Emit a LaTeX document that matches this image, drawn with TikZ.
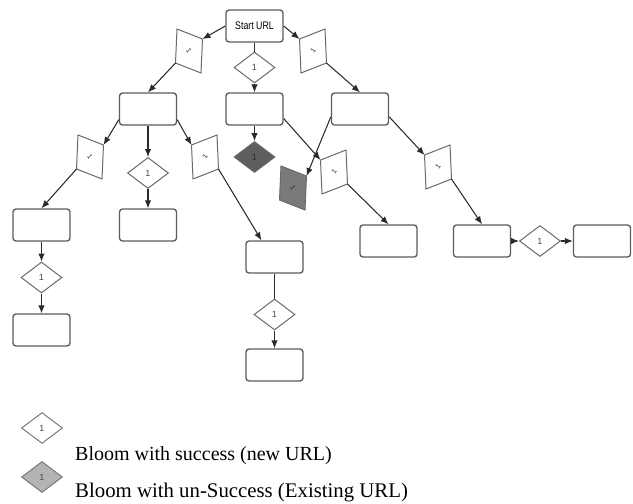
\documentclass[tikz,border=0pt]{standalone}
\usepackage{fontspec}
\usepackage{graphicx}
\setmainfont{Liberation Serif}
\newfontfamily\boxfont{Liberation Sans}
\usetikzlibrary{shapes.geometric,arrows.meta}

\definecolor{boxgray}{HTML}{5C5C5C}
\definecolor{dgray}{HTML}{6A6A6A}
\definecolor{linegray}{HTML}{2A2A2A}
\definecolor{txtgray}{HTML}{4A4A4A}
\definecolor{hitdark}{HTML}{5E5E5E}
\definecolor{hitmid}{HTML}{7A7A7A}
\definecolor{legfill}{HTML}{B4B4B4}
\definecolor{leggray}{HTML}{7A7A7A}

\tikzset{
  urlbox/.style={draw=boxgray, line width=1.35pt, rounded corners=3pt,
    minimum width=57pt, minimum height=32pt, inner sep=0pt, fill=white},
  bloom/.style={diamond, draw=dgray, line width=1pt, minimum width=41pt,
    minimum height=31pt, inner sep=0pt, fill=white, text=txtgray,
    font=\boxfont\fontsize{9}{9}\selectfont},
  hit/.style={bloom, fill=hitdark, text=linegray},
  link/.style={draw=linegray, line width=1.05pt, -{Latex[length=8pt,width=6.5pt]}},
  plain/.style={draw=linegray, line width=1.05pt},
  lean/.style={draw=dgray, line width=1pt},
  leantext/.style={inner sep=0pt, text=linegray, font=\boxfont\fontsize{7}{7}\selectfont},
  legtext/.style={anchor=base west, inner sep=0pt},
  legkey/.style={bloom, draw=leggray, text=txtgray, font=\boxfont\fontsize{9}{9}\selectfont},
}

% tilted bloom marker leaning to the left: name, x, y, fill colour
\newcommand{\leanleft}[4]{%
  \begin{scope}[shift={(#2,#3)}]
    \coordinate (#1-tl) at (-12,-22);
    \coordinate (#1-tr) at (13.5,-12);
    \coordinate (#1-br) at (12,22);
    \coordinate (#1-bl) at (-13.5,12);
    \draw[lean, fill=#4] (#1-tl) -- (#1-tr) -- (#1-br) -- (#1-bl) -- cycle;
    \node[leantext, rotate=-55] (#1) at (0,0) {1};
  \end{scope}}
% tilted bloom marker leaning to the right: name, x, y, fill colour
\newcommand{\leanright}[4]{%
  \begin{scope}[shift={(#2,#3)}]
    \coordinate (#1-tl) at (-13.5,-12);
    \coordinate (#1-tr) at (12,-22);
    \coordinate (#1-br) at (13.5,12);
    \coordinate (#1-bl) at (-12,22);
    \draw[lean, fill=#4] (#1-tl) -- (#1-tr) -- (#1-br) -- (#1-bl) -- cycle;
    \node[leantext, rotate=55] (#1) at (0,0) {1};
  \end{scope}}

\begin{document}
\begin{tikzpicture}[x=1pt, y=-1pt]
\useasboundingbox (0,0) rectangle (633,504);

% pages
\node[urlbox, font=\boxfont\fontsize{11}{11}\selectfont] (start) at (254.5,26)
  {\scalebox{0.8}[1]{Start URL}};
\node[urlbox] (L)   at (148,109) {};
\node[urlbox] (M)   at (254.5,109) {};
\node[urlbox] (R)   at (360,109) {};
\node[urlbox] (LL)  at (41.5,225) {};
\node[urlbox] (LM)  at (148,225) {};
\node[urlbox] (LR)  at (274.5,257) {};
\node[urlbox] (RR1) at (388.5,241) {};
\node[urlbox] (RR2) at (482,241) {};
\node[urlbox] (RR3) at (602,241) {};
\node[urlbox] (LL2) at (41.5,330) {};
\node[urlbox] (LR2) at (274.5,365) {};

% upright bloom markers
\node[bloom] (B)   at (254.5,67.5) {1};
\node[bloom] (E)   at (148,173) {1};
\node[hit]   (G)   at (254.5,157) {1};
\node[bloom] (K)   at (540,241) {1};
\node[bloom] (L2)  at (41.5,277.5) {1};
\node[bloom] (LRd) at (274.5,314.5) {1};

% tilted bloom markers
\leanleft{A}{189}{51}{white}
\leanright{C}{313}{51}{white}
\leanleft{D}{90}{157}{white}
\leanright{F}{205}{157}{white}
\leanleft{H}{293}{188}{hitmid}
\leanright{I}{334}{172}{white}
\leanright{J}{438}{167}{white}

% links
\draw[link]  (start.west) -- (A-tr);
\draw[link]  (A-bl) -- (L.north);
\draw[plain] (start.south) -- (B.north);
\draw[link]  (B.south) -- (M.north);
\draw[link]  (start.east) -- (C-tl);
\draw[link]  (C-br) -- (R.north);

\draw[link]  (L.-160) -- (D-tr);
\draw[link]  (D-bl) -- (LL.north);
\draw[link]  (L.south) -- (E.north);
\draw[link]  (E.south) -- (LM.north);
\draw[link]  (L.-20) -- (F-tl);
\draw[link]  (F-br) -- (LR.128);

\draw[link]  (M.south) -- (G.north);
\draw[link]  (M.-18) -- (I-tl);
\draw[link]  (I-br) -- (RR1.north);

\draw[link]  (R.-165) -- (H-tr);
\draw[link]  (R.-15) -- (J-tl);
\draw[link]  (J-br) -- (RR2.north);
\draw[link]  (RR2.east) -- (K.west);
\draw[link]  (K.east) -- (RR3.west);

\draw[link]  (LL.south) -- (L2.north);
\draw[link]  (L2.south) -- (LL2.north);
\draw[plain] (LR.south) -- (LRd.north);
\draw[link]  (LRd.south) -- (LR2.north);

% legend
\node[legkey] (keyA) at (42,428) {1};
\node[legkey, fill=legfill] (keyB) at (42,477) {1};
\node[legtext, font=\fontsize{20}{24}\selectfont] (keyAtxt) at (75,460)
  {Bloom with success (new URL)};
\node[legtext, font=\fontsize{20.8}{24}\selectfont] (keyBtxt) at (75,497)
  {Bloom with un-Success (Existing URL)};
\end{tikzpicture}
\end{document}
